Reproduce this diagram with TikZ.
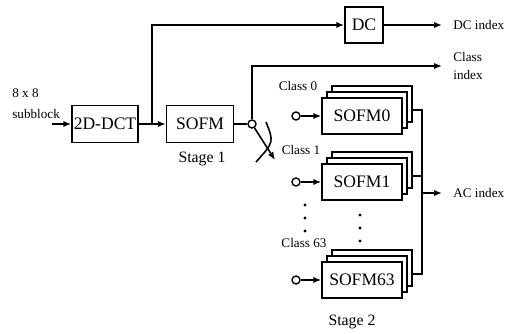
\documentclass[tikz,border=0pt]{standalone}
\usepackage{fontspec}
\setmainfont{Liberation Serif}
\usetikzlibrary{arrows.meta, positioning, calc}

\tikzset{
  blk/.style={draw, line width=0.9pt, fill=white, inner sep=0pt, font=\fontsize{10}{12}\selectfont},
  stackbox/.style={blk, minimum width=1.6cm, minimum height=0.72cm},
  port/.style={draw, circle, line width=0.8pt, fill=white, minimum size=0.16cm, inner sep=0pt},
  lbl/.style={inner sep=0pt, font=\fontsize{7.5}{12}\selectfont},
  stagelbl/.style={inner sep=0pt, font=\fontsize{9}{11}\selectfont},
  wire/.style={line width=0.9pt},
  arr/.style={wire, -{Latex[length=4.5pt,width=3.6pt]}},
}

\begin{document}
\begin{tikzpicture}[x=0.02cm, y=-0.02cm]
  \useasboundingbox (0,0) rectangle (515,334);

  % stage 1
  \node[lbl, anchor=west, align=left] (src) at (12,104) {8 x 8\\subblock};
  \node[blk, minimum width=1.32cm, minimum height=0.74cm] (dct) at (105,124) {2D-DCT};
  \node[blk, minimum width=1.34cm, minimum height=0.74cm] (sofm) at (200,124) {SOFM};
  \node[stagelbl] (stage1) at (202,159) {Stage 1};
  \node[blk, minimum width=0.76cm, minimum height=0.72cm] (dc) at (364,25) {DC};

  % outputs
  \node[lbl, anchor=west] (dcidx) at (453,25) {DC index};
  \node[lbl, anchor=west, align=left, font=\fontsize{7.5}{10.5}\selectfont] (clsidx) at (453,66) {Class\\index};
  \node[lbl, anchor=west] (acidx) at (453,193) {AC index};

  \coordinate (in) at (52,124);
  \coordinate (j) at (152,124);
  \draw[arr] (in) -- (dct);
  \draw[arr] (dct) -- (sofm);
  \draw[arr] (j) |- (dc);
  \draw[arr, shorten >=0.22cm] (dc) -- (dcidx);

  % class switch
  \node[port] (sw) at (252,124) {};
  \coordinate (swtip) at (275,160);
  \draw[wire] (sofm) -- (sw);
  \draw[arr, shorten >=0.22cm] (sw) |- (clsidx.west);
  \draw[arr] (sw) -- (swtip);
  \draw[wire] (266,122) .. controls (274,142) .. (256,162);

  % stage 2
  \foreach \k/\y in {0/116, 1/182, 63/280} {
    \node[stackbox] (b\k) at (372,\y-12) {};
    \node[stackbox] (a\k) at (367,\y-6) {};
    \node[stackbox] (s\k) at (362,\y) {SOFM\k};
    \node[port] (p\k) at (296,\y) {};
    \draw[arr] (p\k) -- (s\k);
  }
  \node[lbl] (c0) at (298,86) {Class 0};
  \node[lbl] (c1) at (301,150) {Class 1};
  \node[lbl] (c63) at (304,243) {Class 63};
  \node[stagelbl] (stage2) at (352,322) {Stage 2};

  \foreach \yy in {205,218,231} \fill (305,\yy) circle (0.9pt);
  \foreach \yy in {215,228,241} \fill (360,\yy) circle (0.9pt);

  \coordinate (bus) at (422,193);
  \foreach \k in {0,1,63} \draw[wire] ([yshift=-0.12cm]b\k.east) -| (bus);
  \draw[arr, shorten >=0.22cm] (bus) -- (acidx.west);
\end{tikzpicture}
\end{document}
